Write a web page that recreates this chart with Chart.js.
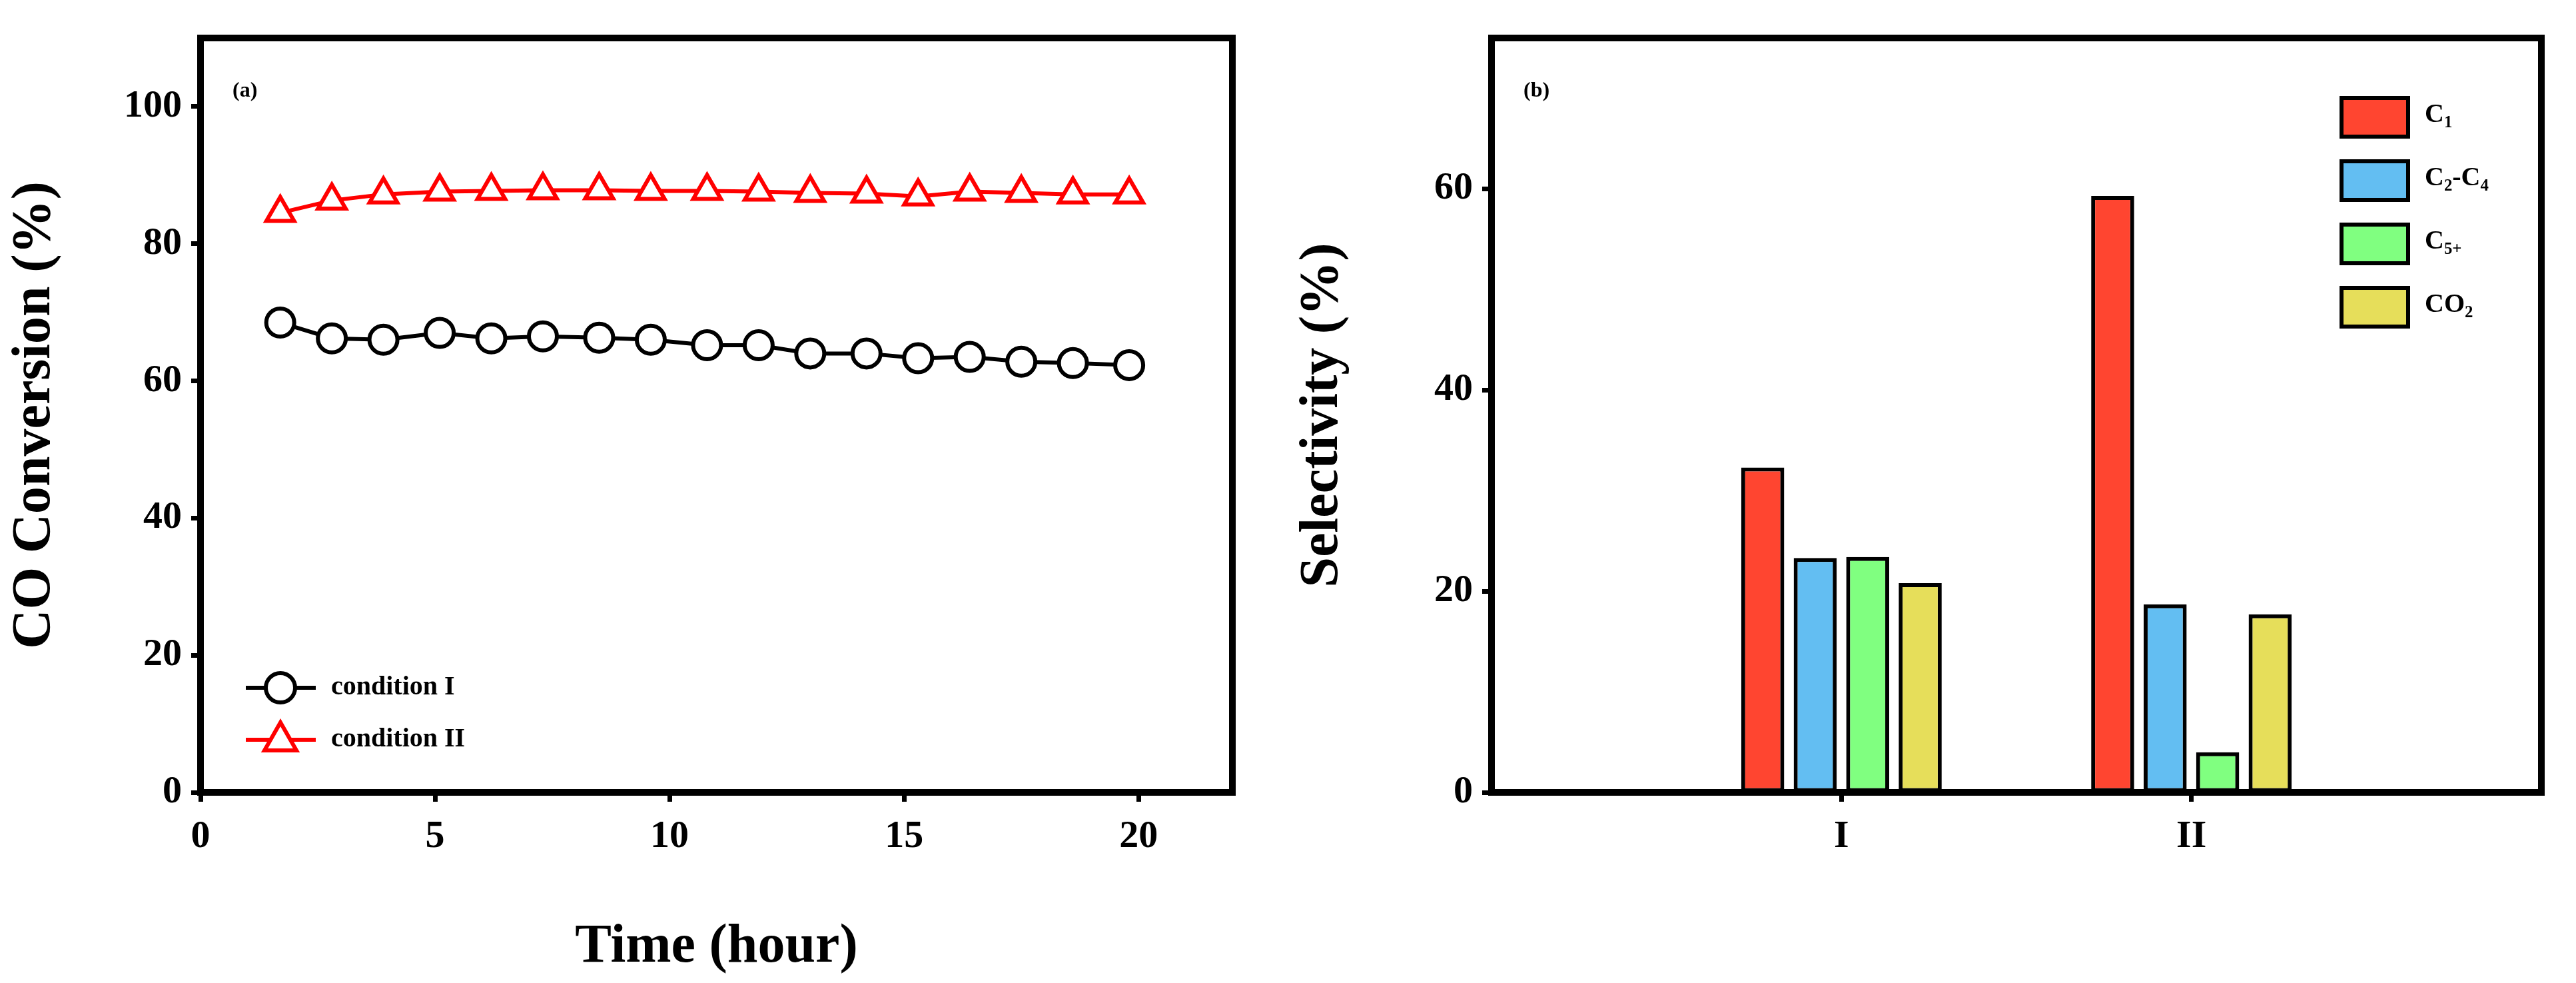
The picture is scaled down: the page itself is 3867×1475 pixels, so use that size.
<!DOCTYPE html>
<html><head><meta charset="utf-8">
<script src="https://cdn.jsdelivr.net/npm/chart.js@4/dist/chart.umd.min.js"></script>
<style>body{margin:0;background:#fff}#a,#b{position:absolute;top:0;width:1933px;height:1475px}#a{left:0}#b{left:1933px}</style>
</head><body>
<div id="a"><canvas id="ca"></canvas></div><div id="b"><canvas id="cb"></canvas></div>
<script>
const timeHours=[1.7,2.8,3.9,5.1,6.2,7.3,8.5,9.6,10.8,11.9,13,14.2,15.3,16.4,17.5,18.6,19.8];
const condI=[68.5,66.2,66,67,66.2,66.5,66.3,66,65.2,65.2,64,64,63.3,63.5,62.8,62.6,62.3];
const condII=[84.5,86.3,87.2,87.6,87.7,87.8,87.8,87.7,87.7,87.6,87.4,87.3,86.9,87.6,87.4,87.2,87.2];
const conditions=['','I','II',''];
const selC1=[null,32.3,59.3,null];
const selC2C4=[null,23.3,18.7,null];
const selC5=[null,23.4,4.0,null];
const selCO2=[null,20.8,17.7,null];

const F='"Liberation Serif", "Times New Roman", serif';
const BW=10;
const frame={id:'frame',afterDraw(c){const a=c.chartArea,x=c.ctx;x.save();x.lineWidth=BW;x.strokeStyle='#000';x.strokeRect(a.left,a.top,a.right-a.left,a.bottom-a.top);x.restore();}};
function sub(ctx,x,y,parts,size){ // parts: [text, isSub]
  for(const [t,s] of parts){ctx.font='bold '+(s?size*0.62:size)+'px '+F;ctx.fillText(t,x,y+(s?size*0.3:0));x+=ctx.measureText(t).width;}
}
const legA={id:'legA',afterDraw(c){const x=c.ctx,a=c.chartArea;x.save();
  const items=[['condition I','#000','circle'],['condition II','#ff0000','tri']];
  items.forEach((it,i)=>{const y=1310-a.top+a.top-0+i*80-0; const yy=a.top+1032+i*78-57; const lx=a.left+68;
    x.strokeStyle=it[1];x.lineWidth=6;x.beginPath();x.moveTo(lx,yy);x.lineTo(lx+105,yy);x.stroke();
    x.fillStyle='#fff';x.beginPath();
    if(it[2]=='circle'){x.arc(lx+52,yy,22,0,Math.PI*2);}else{x.moveTo(lx+52,yy-26);x.lineTo(lx+76,yy+16);x.lineTo(lx+28,yy+16);x.closePath();}
    x.fill();x.stroke();
    x.fillStyle='#000';x.font='bold 40px '+F;x.textBaseline='middle';x.fillText(it[0],lx+128,yy);
  });
  x.font='bold 32px '+F;x.textBaseline='middle';x.fillText('(a)',a.left+48,a.top+80);
  x.restore();}};
const legB={id:'legB',afterDraw(c){const x=c.ctx,a=c.chartArea;x.save();
  const items=[['#ff4530',[['C',0],['1',1]]],['#63bef2',[['C',0],['2',1],['-C',0],['4',1]]],['#80ff80',[['C',0],['5+',1]]],['#e6de5a',[['CO',0],['2',1]]]];
  items.forEach((it,i)=>{const yy=a.top+120+i*95; const lx=a.right-300;
    x.fillStyle=it[0];x.fillRect(lx,yy-30,100,58);x.lineWidth=6;x.strokeStyle='#000';x.strokeRect(lx,yy-30,100,58);
    x.fillStyle='#000';x.textBaseline='middle';sub(x,lx+125,yy-4,it[1],40);
  });
  x.font='bold 32px '+F;x.textBaseline='middle';x.fillText('(b)',a.left+48,a.top+80);
  x.restore();}};

const tickFont={family:F,size:58,weight:'bold'};
const titleFont={family:F,size:82,weight:'bold'};
const grid={display:true,drawOnChartArea:false,drawTicks:true,tickLength:14,tickWidth:7,color:'#000'};

new Chart(document.getElementById('ca'),{type:'line',
 data:{datasets:[
  {data:timeHours.map((t,i)=>({x:t,y:condI[i]})),borderColor:'#000',borderWidth:6,pointStyle:'circle',pointRadius:21,pointBorderWidth:6,pointBackgroundColor:'#fff',pointBorderColor:'#000'},
  {data:timeHours.map((t,i)=>({x:t,y:condII[i]})),borderColor:'#ff0000',borderWidth:6,pointStyle:'triangle',pointRadius:24,pointBorderWidth:6,pointBackgroundColor:'#fff',pointBorderColor:'#ff0000'}]},
 options:{responsive:true,maintainAspectRatio:false,animation:false,
  layout:{padding:{top:57,right:83,left:0,bottom:0}},
  plugins:{legend:{display:false},tooltip:{enabled:false}},
  scales:{
   x:{type:'linear',min:0,max:22,border:{color:'#000',width:BW},grid,
      ticks:{stepSize:5,color:'#000',font:tickFont,padding:18},
      afterBuildTicks:s=>{s.ticks=s.ticks.filter(t=>t.value%5===0)},
      afterFit:s=>{s.height=286},
      title:{display:true,text:'Time (hour)',color:'#000',font:titleFont,padding:{top:30}}},
   y:{min:0,max:110,border:{color:'#000',width:BW},grid,
      ticks:{stepSize:20,color:'#000',font:tickFont,padding:14},
      afterBuildTicks:s=>{s.ticks=s.ticks.filter(t=>t.value%20===0)},
      afterFit:s=>{s.width=301},
      title:{display:true,text:'CO Conversion (%)',color:'#000',font:titleFont,padding:{bottom:20}}}}},
 plugins:[frame,legA]});

const bd=(d,c)=>({data:d,backgroundColor:c,borderColor:'#000',borderWidth:6,borderSkipped:false,categoryPercentage:0.6,barPercentage:0.82});
new Chart(document.getElementById('cb'),{type:'bar',
 data:{labels:conditions,datasets:[bd(selC1,'#ff4530'),bd(selC2C4,'#63bef2'),bd(selC5,'#80ff80'),bd(selCO2,'#e6de5a')]},
 options:{responsive:true,maintainAspectRatio:false,animation:false,
  layout:{padding:{top:57,right:51,left:0,bottom:0}},
  plugins:{legend:{display:false},tooltip:{enabled:false}},
  scales:{
   x:{offset:false,border:{color:'#000',width:BW},grid:{...grid,offset:false},
      ticks:{color:'#000',font:tickFont,padding:18,autoSkip:false,maxRotation:0},
      afterBuildTicks:s=>{s.ticks=s.ticks.filter(t=>t.value===1||t.value===2)},
      afterFit:s=>{s.height=286}},
   y:{min:0,max:75,border:{color:'#000',width:BW},grid,
      ticks:{stepSize:20,color:'#000',font:tickFont,padding:14},
      afterBuildTicks:s=>{s.ticks=s.ticks.filter(t=>t.value%20===0)},
      afterFit:s=>{s.width=306},
      title:{display:true,text:'Selectivity (%)',color:'#000',font:titleFont,padding:{bottom:20}}}}},
 plugins:[frame,legB]});
</script></body></html>
